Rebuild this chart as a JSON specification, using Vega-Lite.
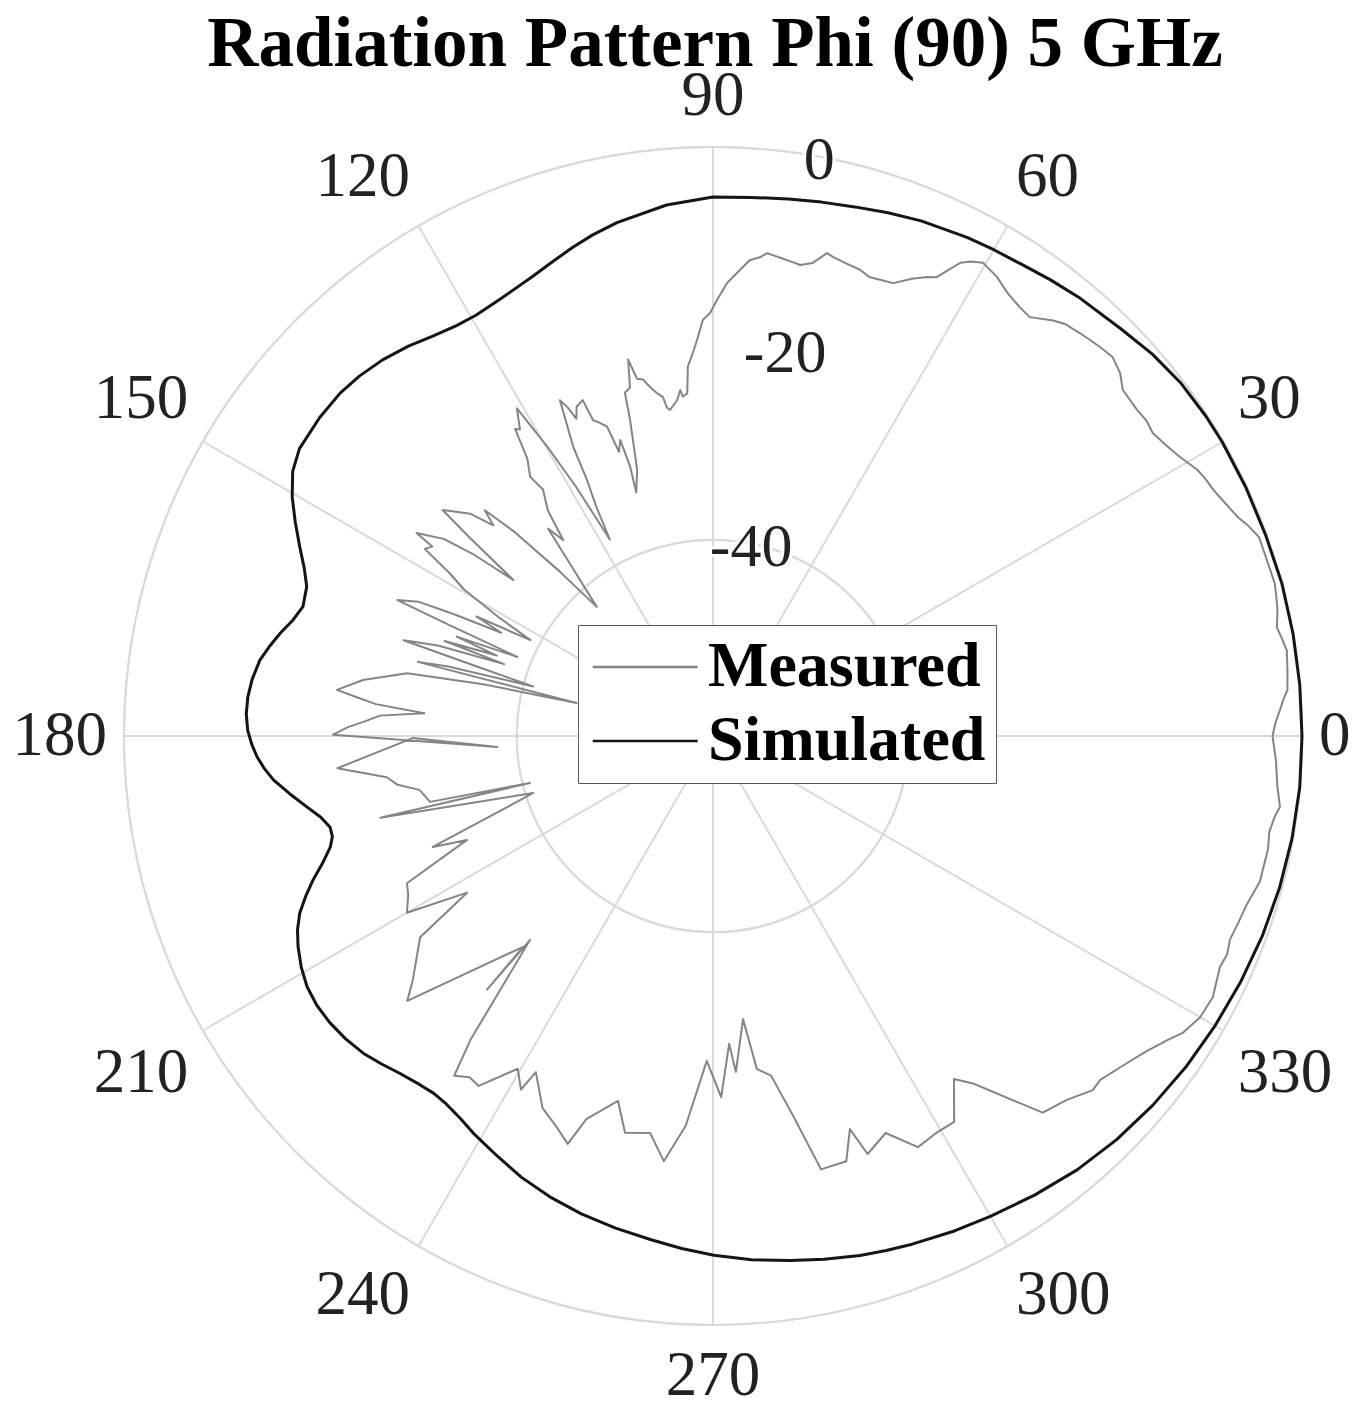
{
  "$schema": "https://vega.github.io/schema/vega-lite/v6.json",
  "width": 1178,
  "height": 1178,
  "autosize": {"type": "none"},
  "padding": {"left": 124, "top": 147, "right": 54, "bottom": 85},
  "background": "white",
  "config": {"view": {"stroke": null}},
  "datasets": {
    "heading": [{"text": "Radiation Pattern Phi (90) 5 GHz"}],
    "angles": [
      {"angle": 0, "label": "0"}, {"angle": 30, "label": "30"}, {"angle": 60, "label": "60"}, {"angle": 90, "label": "90"},
      {"angle": 120, "label": "120"}, {"angle": 150, "label": "150"}, {"angle": 180, "label": "180"}, {"angle": 210, "label": "210"},
      {"angle": 240, "label": "240"}, {"angle": 270, "label": "270"}, {"angle": 300, "label": "300"}, {"angle": 330, "label": "330"}
    ],
    "rings": [{"ring": -40, "label": "-40"}, {"ring": -20, "label": "-20"}, {"ring": 0, "label": "0"}],
    "simulated": [
      {"angle":0,"gain":0},{"angle":5,"gain":0},{"angle":10,"gain":0},{"angle":15,"gain":0},{"angle":20,"gain":-0.1},{"angle":25,"gain":-0.1},{"angle":30,"gain":-0.1},{"angle":33,"gain":-0.15},{"angle":37,"gain":-0.3},{"angle":41,"gain":-0.7},{"angle":45,"gain":-1.3},{"angle":50,"gain":-1.8},{"angle":53.5,"gain":-2.2},{"angle":57,"gain":-2.6},{"angle":60,"gain":-2.8},{"angle":63,"gain":-3.0},{"angle":68,"gain":-3.4},{"angle":71.5,"gain":-3.8},{"angle":75,"gain":-4.2},{"angle":78.5,"gain":-4.5},{"angle":82,"gain":-4.75},{"angle":86,"gain":-5.0},{"angle":90,"gain":-5.1},{"angle":95,"gain":-5.7},{"angle":100.6,"gain":-6.8},{"angle":103.5,"gain":-7.5},{"angle":106,"gain":-8.2},{"angle":108.7,"gain":-9.0},{"angle":111.4,"gain":-9.7},{"angle":114,"gain":-10.2},{"angle":116,"gain":-10.5},{"angle":119.4,"gain":-10.8},{"angle":122,"gain":-10.7},{"angle":125.1,"gain":-10.25},{"angle":128,"gain":-9.6},{"angle":131.3,"gain":-9.0},{"angle":134.5,"gain":-8.6},{"angle":137.4,"gain":-8.4},{"angle":141,"gain":-8.45},{"angle":145.2,"gain":-8.7},{"angle":147.8,"gain":-9.4},{"angle":150.4,"gain":-10.7},{"angle":152.9,"gain":-12.2},{"angle":155.4,"gain":-13.7},{"angle":157.7,"gain":-15.0},{"angle":159.8,"gain":-15.9},{"angle":162.5,"gain":-16.2},{"angle":164.6,"gain":-15.6},{"angle":166.6,"gain":-14.7},{"angle":168.6,"gain":-13.9},{"angle":170.5,"gain":-13.2},{"angle":173,"gain":-12.7},{"angle":175.2,"gain":-12.45},{"angle":177.3,"gain":-12.4},{"angle":179.3,"gain":-12.6},{"angle":181,"gain":-13.0},{"angle":182.6,"gain":-13.5},{"angle":184.2,"gain":-14.2},{"angle":185.7,"gain":-15.0},{"angle":187.8,"gain":-16.5},{"angle":189.9,"gain":-18.0},{"angle":191.7,"gain":-19.2},{"angle":193.4,"gain":-19.9},{"angle":194.8,"gain":-19.9},{"angle":196.2,"gain":-19.4},{"angle":198,"gain":-18.2},{"angle":199.8,"gain":-16.7},{"angle":201.5,"gain":-15.4},{"angle":203.2,"gain":-14.2},{"angle":205,"gain":-13.3},{"angle":206.9,"gain":-12.6},{"angle":209.3,"gain":-11.9},{"angle":211.7,"gain":-11.4},{"angle":214.2,"gain":-11.2},{"angle":216.8,"gain":-11.25},{"angle":219.5,"gain":-11.5},{"angle":222.2,"gain":-11.9},{"angle":224.7,"gain":-12.5},{"angle":227.1,"gain":-13.1},{"angle":230,"gain":-13.6},{"angle":232,"gain":-13.8},{"angle":234.1,"gain":-13.7},{"angle":236.6,"gain":-13.3},{"angle":239.1,"gain":-12.7},{"angle":242.8,"gain":-11.9},{"angle":246.5,"gain":-11.0},{"angle":250.5,"gain":-10.2},{"angle":254.6,"gain":-9.5},{"angle":258.8,"gain":-8.9},{"angle":263,"gain":-8.3},{"angle":266.5,"gain":-7.7},{"angle":270.1,"gain":-7.1},{"angle":274.2,"gain":-6.5},{"angle":278.4,"gain":-6.0},{"angle":282,"gain":-5.5},{"angle":285.8,"gain":-5.0},{"angle":288.6,"gain":-4.7},{"angle":291.4,"gain":-4.4},{"angle":296,"gain":-3.9},{"angle":300,"gain":-3.5},{"angle":305,"gain":-2.9},{"angle":310,"gain":-2.3},{"angle":315,"gain":-1.85},{"angle":320,"gain":-1.5},{"angle":325,"gain":-1.2},{"angle":330,"gain":-0.95},{"angle":335,"gain":-0.7},{"angle":340,"gain":-0.45},{"angle":345,"gain":-0.25},{"angle":350,"gain":-0.1},{"angle":355,"gain":0},{"angle":360,"gain":0}
    ],
    "measured": [
      {"angle":0,"gain":-3.0},{"angle":1.3,"gain":-2.7},{"angle":2.6,"gain":-2.2},{"angle":3.6,"gain":-1.8},{"angle":4.6,"gain":-1.3},{"angle":6.5,"gain":-1.1},{"angle":8.5,"gain":-0.9},{"angle":9.7,"gain":-1.2},{"angle":10.9,"gain":-1.5},{"angle":12.5,"gain":-1.1},{"angle":13.8,"gain":-0.9},{"angle":15.2,"gain":-0.7},{"angle":17.5,"gain":-0.8},{"angle":20,"gain":-0.8},{"angle":21.4,"gain":-1.4},{"angle":22.7,"gain":-2.1},{"angle":24.5,"gain":-2.7},{"angle":26.2,"gain":-3.2},{"angle":27.5,"gain":-3.4},{"angle":28.8,"gain":-3.7},{"angle":30.9,"gain":-4.6},{"angle":32.8,"gain":-5.2},{"angle":34.6,"gain":-5.6},{"angle":36,"gain":-5.4},{"angle":37.6,"gain":-5.5},{"angle":40.2,"gain":-5.35},{"angle":41.7,"gain":-4.45},{"angle":43.5,"gain":-3.9},{"angle":45.1,"gain":-4.1},{"angle":46.4,"gain":-4.3},{"angle":47.7,"gain":-4.5},{"angle":49.5,"gain":-4.8},{"angle":50.7,"gain":-5.3},{"angle":52.9,"gain":-6.5},{"angle":54.4,"gain":-6.3},{"angle":56.4,"gain":-5.8},{"angle":58.3,"gain":-5.0},{"angle":60.3,"gain":-4.5},{"angle":61.5,"gain":-5.0},{"angle":62.4,"gain":-5.6},{"angle":63.2,"gain":-6.8},{"angle":64,"gain":-8.0},{"angle":65,"gain":-8.4},{"angle":66.5,"gain":-9.2},{"angle":68.3,"gain":-10.35},{"angle":69.9,"gain":-10.5},{"angle":71.2,"gain":-10.6},{"angle":72.5,"gain":-10.2},{"angle":74.2,"gain":-10.0},{"angle":75.9,"gain":-9.7},{"angle":76.7,"gain":-9.45},{"angle":78.1,"gain":-10.75},{"angle":79.5,"gain":-11.2},{"angle":80.8,"gain":-11.0},{"angle":82,"gain":-10.8},{"angle":83.6,"gain":-10.5},{"angle":84.4,"gain":-11.0},{"angle":85.6,"gain":-11.4},{"angle":86.7,"gain":-12.45},{"angle":88.2,"gain":-13.8},{"angle":89.5,"gain":-15.6},{"angle":90.4,"gain":-16.9},{"angle":91.4,"gain":-17.6},{"angle":92.3,"gain":-19.6},{"angle":93,"gain":-20.9},{"angle":93.9,"gain":-22.3},{"angle":94.3,"gain":-25.0},{"angle":95.1,"gain":-25.3},{"angle":95.4,"gain":-24.6},{"angle":96.1,"gain":-25.6},{"angle":97.5,"gain":-26.5},{"angle":98,"gain":-26.2},{"angle":98.4,"gain":-25.1},{"angle":99.3,"gain":-24.6},{"angle":100.2,"gain":-23.9},{"angle":101.1,"gain":-23.0},{"angle":102,"gain":-22.8},{"angle":102.7,"gain":-20.7},{"angle":103.4,"gain":-23.5},{"angle":104.4,"gain":-23.9},{"angle":104.7,"gain":-26.7},{"angle":105.9,"gain":-31.8},{"angle":107.5,"gain":-34.0},{"angle":107.1,"gain":-31.3},{"angle":107.4,"gain":-28.4},{"angle":108.3,"gain":-29.5},{"angle":108.9,"gain":-26.7},{"angle":110,"gain":-26.0},{"angle":110.8,"gain":-25.6},{"angle":111.2,"gain":-23.3},{"angle":112.5,"gain":-23.7},{"angle":113.3,"gain":-24.8},{"angle":113.9,"gain":-23.3},{"angle":114.5,"gain":-22.4},{"angle":115.8,"gain":-27.3},{"angle":116.2,"gain":-30.9},{"angle":117,"gain":-33.9},{"angle":117.7,"gain":-37.4},{"angle":118.8,"gain":-31.0},{"angle":119.8,"gain":-26.0},{"angle":120.9,"gain":-21.1},{"angle":122.2,"gain":-23.1},{"angle":122.8,"gain":-22.8},{"angle":123.8,"gain":-26.0},{"angle":125.2,"gain":-27.7},{"angle":124.6,"gain":-29.5},{"angle":126.2,"gain":-31.5},{"angle":127.4,"gain":-34.9},{"angle":128.5,"gain":-33.0},{"angle":130,"gain":-38.0},{"angle":132,"gain":-42.3},{"angle":133,"gain":-37.0},{"angle":134.2,"gain":-31.0},{"angle":135.3,"gain":-27.3},{"angle":136.2,"gain":-29.0},{"angle":137.5,"gain":-26.5},{"angle":140.1,"gain":-24.1},{"angle":140.8,"gain":-28.0},{"angle":142,"gain":-34.2},{"angle":142.8,"gain":-29.5},{"angle":143.8,"gain":-26.0},{"angle":145.6,"gain":-23.4},{"angle":146,"gain":-25.5},{"angle":147,"gain":-25.0},{"angle":148.3,"gain":-28.5},{"angle":149.5,"gain":-30.5},{"angle":151,"gain":-35.0},{"angle":152.3,"gain":-39.0},{"angle":153.2,"gain":-33.0},{"angle":154,"gain":-36.0},{"angle":154.8,"gain":-31.0},{"angle":155.5,"gain":-27.0},{"angle":156.7,"gain":-25.0},{"angle":157.2,"gain":-31.0},{"angle":158,"gain":-38.5},{"angle":158.8,"gain":-32.0},{"angle":159.6,"gain":-36.5},{"angle":160.5,"gain":-31.0},{"angle":161,"gain":-37.5},{"angle":161.8,"gain":-30.5},{"angle":162.8,"gain":-27.0},{"angle":163.6,"gain":-35.0},{"angle":164.6,"gain":-41.0},{"angle":165.3,"gain":-32.0},{"angle":165.9,"gain":-29.0},{"angle":166.4,"gain":-45.7},{"angle":167.3,"gain":-36.0},{"angle":168.4,"gain":-28.2},{"angle":170.9,"gain":-23.9},{"angle":173,"gain":-21.4},{"angle":173.8,"gain":-23.5},{"angle":174.6,"gain":-25.5},{"angle":175.5,"gain":-30.5},{"angle":176.5,"gain":-26.0},{"angle":177.6,"gain":-24.5},{"angle":178.6,"gain":-22.8},{"angle":179.8,"gain":-21.3},{"angle":182.9,"gain":-38.0},{"angle":180.4,"gain":-29.4},{"angle":184.9,"gain":-21.6},{"angle":187.2,"gain":-26.5},{"angle":188.8,"gain":-27.5},{"angle":190.4,"gain":-29.6},{"angle":193.1,"gain":-30.4},{"angle":194.4,"gain":-40.75},{"angle":193.8,"gain":-25.1},{"angle":197.6,"gain":-40.8},{"angle":201.6,"gain":-29.3},{"angle":202.9,"gain":-32.8},{"angle":205.7,"gain":-25.4},{"angle":207.5,"gain":-25.0},{"angle":210,"gain":-24.0},{"angle":212.5,"gain":-30.3},{"angle":214.5,"gain":-23.8},{"angle":216.5,"gain":-22.5},{"angle":219.1,"gain":-20.6},{"angle":220.9,"gain":-18.8},{"angle":228,"gain":-31.1},{"angle":228.3,"gain":-25.4},{"angle":228.1,"gain":-32.1},{"angle":231.4,"gain":-20.4},{"angle":232.7,"gain":-16.5},{"angle":234.5,"gain":-17.3},{"angle":236.2,"gain":-17.1},{"angle":239.6,"gain":-20.7},{"angle":241.5,"gain":-19.0},{"angle":242.2,"gain":-21.3},{"angle":245.4,"gain":-18.3},{"angle":248,"gain":-17.2},{"angle":250.4,"gain":-15.9},{"angle":251.7,"gain":-18.9},{"angle":255.4,"gain":-21.6},{"angle":257.5,"gain":-18.6},{"angle":261,"gain":-19.05},{"angle":263.4,"gain":-16.4},{"angle":266,"gain":-20.2},{"angle":268.9,"gain":-26.9},{"angle":271.3,"gain":-23.2},{"angle":273,"gain":-28.6},{"angle":273.9,"gain":-25.7},{"angle":276.05,"gain":-31.0},{"angle":277.5,"gain":-25.8},{"angle":279.7,"gain":-24.9},{"angle":281.9,"gain":-20.5},{"angle":284,"gain":-14.5},{"angle":287.4,"gain":-14.6},{"angle":289.2,"gain":-17.6},{"angle":290.3,"gain":-14.6},{"angle":293.5,"gain":-15.9},{"angle":296.5,"gain":-13.2},{"angle":299.3,"gain":-13.6},{"angle":302,"gain":-13.65},{"angle":305.1,"gain":-17.3},{"angle":306.8,"gain":-15.8},{"angle":311.2,"gain":-9.0},{"angle":314.2,"gain":-8.3},{"angle":317,"gain":-7.1},{"angle":318.4,"gain":-7.25},{"angle":321.7,"gain":-6.25},{"angle":324,"gain":-5.4},{"angle":326.2,"gain":-4.3},{"angle":327.7,"gain":-3.4},{"angle":330,"gain":-2.7},{"angle":332.4,"gain":-2.55},{"angle":335.5,"gain":-3.25},{"angle":337,"gain":-3.1},{"angle":338.5,"gain":-3.4},{"angle":340.5,"gain":-3.2},{"angle":342.4,"gain":-3.0},{"angle":345.1,"gain":-2.35},{"angle":348.5,"gain":-2.3},{"angle":350.2,"gain":-2.5},{"angle":351.8,"gain":-2.2},{"angle":352.9,"gain":-1.8},{"angle":355,"gain":-2.3},{"angle":357.5,"gain":-2.6},{"angle":360,"gain":-3.0}
    ]
  },
  "layer": [
    {
      "data": {"name": "rings"},
      "transform": [{"calculate": "datum.ring + 60", "as": "rr"}],
      "mark": {"type": "arc", "filled": false, "stroke": "#dadada", "strokeWidth": 2, "theta": 0, "theta2": 6.2832},
      "encoding": {
        "radius": {"field": "rr", "type": "quantitative", "scale": {"type": "linear", "domain": [0, 60], "zero": true}}
      }
    },
    {
      "data": {"name": "angles"},
      "transform": [
        {"calculate": "0", "as": "ox"},
        {"calculate": "0", "as": "oy"},
        {"calculate": "60 * cos(datum.angle * PI / 180)", "as": "ex"},
        {"calculate": "60 * sin(datum.angle * PI / 180)", "as": "ey"}
      ],
      "mark": {"type": "rule", "stroke": "#dadada", "strokeWidth": 2},
      "encoding": {
        "x": {"field": "ox", "type": "quantitative", "scale": {"domain": [-60, 60], "nice": false, "zero": false}, "axis": null},
        "y": {"field": "oy", "type": "quantitative", "scale": {"domain": [-60, 60], "nice": false, "zero": false}, "axis": null},
        "x2": {"field": "ex"},
        "y2": {"field": "ey"}
      }
    },
    {
      "data": {"name": "rings"},
      "transform": [
        {"calculate": "(datum.ring + 60) * cos(80 * PI / 180)", "as": "lx"},
        {"calculate": "(datum.ring + 60) * sin(80 * PI / 180)", "as": "ly"}
      ],
      "encoding": {
        "x": {"field": "lx", "type": "quantitative", "scale": {"domain": [-60, 60], "nice": false, "zero": false}, "axis": null},
        "y": {"field": "ly", "type": "quantitative", "scale": {"domain": [-60, 60], "nice": false, "zero": false}, "axis": null},
        "text": {"field": "label"}
      },
      "layer": [
        {"mark": {"type": "text", "font": "Liberation Serif", "fontSize": 62, "fill": "white", "stroke": "white", "strokeWidth": 6, "align": "center", "baseline": "middle", "dx": 4, "dy": 4}},
        {"mark": {"type": "text", "font": "Liberation Serif", "fontSize": 62, "fill": "#222222", "align": "center", "baseline": "middle", "dx": 4, "dy": 4}}
      ]
    },
    {
      "data": {"name": "measured"},
      "transform": [
        {"window": [{"op": "row_number", "as": "idx"}]},
        {"calculate": "'Measured'", "as": "series"},
        {"calculate": "(datum.gain + 60) * cos(datum.angle * PI / 180)", "as": "px"},
        {"calculate": "(datum.gain + 60) * sin(datum.angle * PI / 180)", "as": "py"}
      ],
      "mark": {"type": "line", "strokeWidth": 2, "strokeJoin": "round"},
      "encoding": {
        "x": {"field": "px", "type": "quantitative", "scale": {"domain": [-60, 60], "nice": false, "zero": false}, "axis": null},
        "y": {"field": "py", "type": "quantitative", "scale": {"domain": [-60, 60], "nice": false, "zero": false}, "axis": null},
        "order": {"field": "idx", "type": "quantitative"},
        "color": {"field": "series", "type": "nominal", "scale": {"domain": ["Measured", "Simulated"], "range": ["#858585", "#151515"]},
          "legend": {"title": null, "orient": "none", "legendX": 454, "legendY": 478, "direction": "vertical", "fillColor": "white", "strokeColor": "#5a5a5a", "padding": 10, "labelFont": "Liberation Serif", "labelFontSize": 64, "labelFontWeight": "bold", "labelColor": "#000000", "symbolType": "M-1.3,0H3.7", "symbolSize": 1764, "symbolStrokeWidth": 2.5, "labelOffset": 56, "rowPadding": 10, "labelLimit": 0}}
      }
    },
    {
      "data": {"name": "simulated"},
      "transform": [
        {"window": [{"op": "row_number", "as": "idx"}]},
        {"calculate": "'Simulated'", "as": "series"},
        {"calculate": "(datum.gain + 60) * cos(datum.angle * PI / 180)", "as": "px"},
        {"calculate": "(datum.gain + 60) * sin(datum.angle * PI / 180)", "as": "py"}
      ],
      "mark": {"type": "line", "strokeWidth": 3, "strokeJoin": "round"},
      "encoding": {
        "x": {"field": "px", "type": "quantitative", "scale": {"domain": [-60, 60], "nice": false, "zero": false}, "axis": null},
        "y": {"field": "py", "type": "quantitative", "scale": {"domain": [-60, 60], "nice": false, "zero": false}, "axis": null},
        "order": {"field": "idx", "type": "quantitative"},
        "color": {"field": "series", "type": "nominal", "scale": {"domain": ["Measured", "Simulated"], "range": ["#858585", "#151515"]},
          "legend": {"title": null, "orient": "none", "legendX": 454, "legendY": 478, "direction": "vertical", "fillColor": "white", "strokeColor": "#5a5a5a", "padding": 10, "labelFont": "Liberation Serif", "labelFontSize": 64, "labelFontWeight": "bold", "labelColor": "#000000", "symbolType": "M-1.3,0H3.7", "symbolSize": 1764, "symbolStrokeWidth": 2.5, "labelOffset": 56, "rowPadding": 10, "labelLimit": 0}}
      }
    },
    {
      "data": {"name": "angles"},
      "transform": [
        {"calculate": "datum.angle * PI / 180", "as": "rad"},
        {"calculate": "cos(datum.rad) > 0.01 ? 1 : (cos(datum.rad) < -0.01 ? -1 : 0)", "as": "sc"},
        {"calculate": "sin(datum.rad) > 0.01 ? 1 : (sin(datum.rad) < -0.01 ? -1 : 0)", "as": "ss"},
        {"calculate": "61.73 * cos(datum.rad) + datum.sc * 1.604 * length(datum.label)", "as": "lx"},
        {"calculate": "61.73 * sin(datum.rad) + datum.ss * 3.46", "as": "ly"}
      ],
      "mark": {"type": "text", "font": "Liberation Serif", "fontSize": 63, "fill": "#222222", "align": "center", "baseline": "middle"},
      "encoding": {
        "x": {"field": "lx", "type": "quantitative", "scale": {"domain": [-60, 60], "nice": false, "zero": false}, "axis": null},
        "y": {"field": "ly", "type": "quantitative", "scale": {"domain": [-60, 60], "nice": false, "zero": false}, "axis": null},
        "text": {"field": "label"}
      }
    },
    {
      "data": {"name": "heading"},
      "mark": {"type": "text", "font": "Liberation Serif", "fontSize": 71, "fontWeight": "bold", "fill": "#000000", "align": "center", "baseline": "alphabetic"},
      "encoding": {
        "x": {"datum": 0.2, "type": "quantitative", "scale": {"domain": [-60, 60], "nice": false, "zero": false}, "axis": null},
        "y": {"datum": 68.3, "type": "quantitative", "scale": {"domain": [-60, 60], "nice": false, "zero": false}, "axis": null},
        "text": {"field": "text"}
      }
    }
  ]
}
